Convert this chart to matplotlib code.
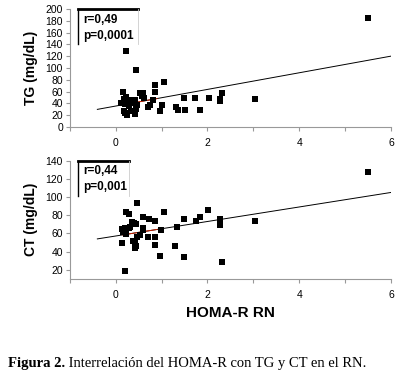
import matplotlib
matplotlib.use("agg")
import matplotlib.pyplot as plt
import numpy as np

# HOMA-R vs TG (upper panel)
homa_tg = [0.15, 0.23, 0.44, 1.05, 0.86, 0.86, 0.54, 0.60, 0.58, 0.62,
           0.22, 0.17, 0.37, 0.43, 0.29, 0.82, 0.18, 0.26, 0.20, 0.46,
           0.36, 0.75, 0.70, 1.00, 0.18, 0.33, 0.44, 0.96, 0.20, 0.24,
           0.41, 0.30, 0.12, 1.31, 1.36, 1.49, 1.73, 2.03, 2.32, 2.27,
           2.27, 3.04, 1.50, 1.84, 5.50]
tg = [60, 129, 97, 76, 71, 60, 58, 58, 52, 50,
      51, 48, 46, 46, 45, 45, 42, 42, 39, 38,
      40, 37, 34, 37, 28, 28, 31, 28, 23, 20,
      22, 35, 40, 34, 29.5, 50, 50, 50, 58, 47.5,
      44, 47.5, 29.5, 29.5, 184]

# HOMA-R vs CT (lower panel)
homa_ct = [5.50, 0.47, 0.23, 0.30, 1.05, 2.02, 0.59, 0.73, 0.86, 1.49,
           1.83, 1.74, 2.27, 2.27, 3.03, 0.36, 0.40, 0.44, 0.32, 0.13,
           0.20, 0.24, 0.16, 0.22, 0.60, 0.60, 0.98, 1.34, 0.71, 0.85,
           0.47, 0.52, 0.38, 0.41, 0.44, 0.42, 0.13, 0.85, 1.29, 0.96,
           1.49, 2.32, 0.20, 0.28, 0.18]
ct = [128, 93, 83.5, 81, 83.5, 86, 78.5, 76, 74, 76,
      78.5, 74, 76, 69, 74, 73, 71, 70.5, 67, 65,
      66, 66, 62, 59.5, 63.5, 66, 63.5, 67, 56, 56,
      56, 58.5, 51.5, 49, 46.5, 44, 49, 47.5, 46.5, 35.5,
      34, 29, 19.3, 66, 62.5]

# regression lines (intercept, slope)
fit_tg = (35.6, 14.1)
fit_ct = (57.2, 7.97)
fit_x = [-0.4, 6]

stats_tg = ["r=0,49", "p=0,0001"]
stats_ct = ["r=0,44", "p=0,001"]

caption_bold = "Figura 2."
caption_text = " Interrelación del HOMA-R con TG y CT en el RN."

plt.rcParams['font.family'] = ['Liberation Sans', 'DejaVu Sans']

fig = plt.figure(figsize=(3.99, 3.77), dpi=100)
ax1 = fig.add_axes([0.175, 0.663, 0.805, 0.313])
ax2 = fig.add_axes([0.175, 0.260, 0.805, 0.314])

def style(ax, ylim, yticks, fit, stats, ylabel, box_right):
    ax.set_xlim(-1, 6)
    ax.set_ylim(*ylim)
    ax.set_xticks(range(-1, 7))
    ax.set_xticklabels(["" if v % 2 else str(v) for v in range(-1, 7)])
    ax.set_yticks(yticks)
    for s in ("top", "right"):
        ax.spines[s].set_visible(False)
    for s in ("left", "bottom"):
        ax.spines[s].set_color("#999999")
        ax.spines[s].set_linewidth(0.8)
    ax.tick_params(length=3, width=0.8, color="#999999", labelsize=7.5, pad=2)
    ax.tick_params(axis="x", pad=5)
    ax.set_ylabel(ylabel, fontsize=10, fontweight="bold", labelpad=5)
    xs = np.array(fit_x)
    ax.plot(xs, fit[0] + fit[1] * xs, color="black", lw=0.7, zorder=2)
    xr = np.array([0.15, 0.9])
    ax.plot(xr, fit[0] + fit[1] * xr, color="#cc2200", lw=0.7, zorder=2)
    # stats box: thick top, thin left, faint right
    top = ylim[1]
    h = (ylim[1] - ylim[0]) * 0.30
    ax.plot([-0.82, box_right], [top, top], color="black", lw=2.0, clip_on=False, zorder=4)
    ax.plot([-0.82, -0.82], [top, top - h], color="black", lw=1.0, clip_on=False, zorder=4)
    ax.plot([box_right, box_right], [top, top - h], color="#cccccc", lw=0.6, clip_on=False, zorder=4)
    ax.text(-0.7, top - h * 0.3, stats[0], fontsize=8.5, fontweight="bold", va="center")
    ax.text(-0.7, top - h * 0.75, stats[1], fontsize=8.5, fontweight="bold", va="center")

ax1.scatter(homa_tg, tg, marker="s", s=14, color="black", zorder=3, linewidths=0)
style(ax1, (0, 200), range(0, 201, 20), fit_tg, stats_tg, "TG (mg/dL)", 0.48)

ax2.scatter(homa_ct, ct, marker="s", s=14, color="black", zorder=3, linewidths=0)
style(ax2, (10, 140), range(20, 141, 20), fit_ct, stats_ct, "CT (mg/dL)", 0.30)
ax2.set_xlabel("HOMA-R RN", fontsize=11, fontweight="bold", labelpad=4)

t1 = fig.text(0.02, 0.037, caption_bold, fontsize=10.5, fontweight="bold",
              family="Liberation Serif", va="center")
renderer = fig.canvas.get_renderer()
bb = t1.get_window_extent(renderer=renderer)
x_next = fig.transFigure.inverted().transform((bb.x1, bb.y0))[0]
fig.text(x_next, 0.037, caption_text, fontsize=10.5,
         family="Liberation Serif", va="center")

fig.savefig("out.png", dpi=100)
plt.close(fig)
